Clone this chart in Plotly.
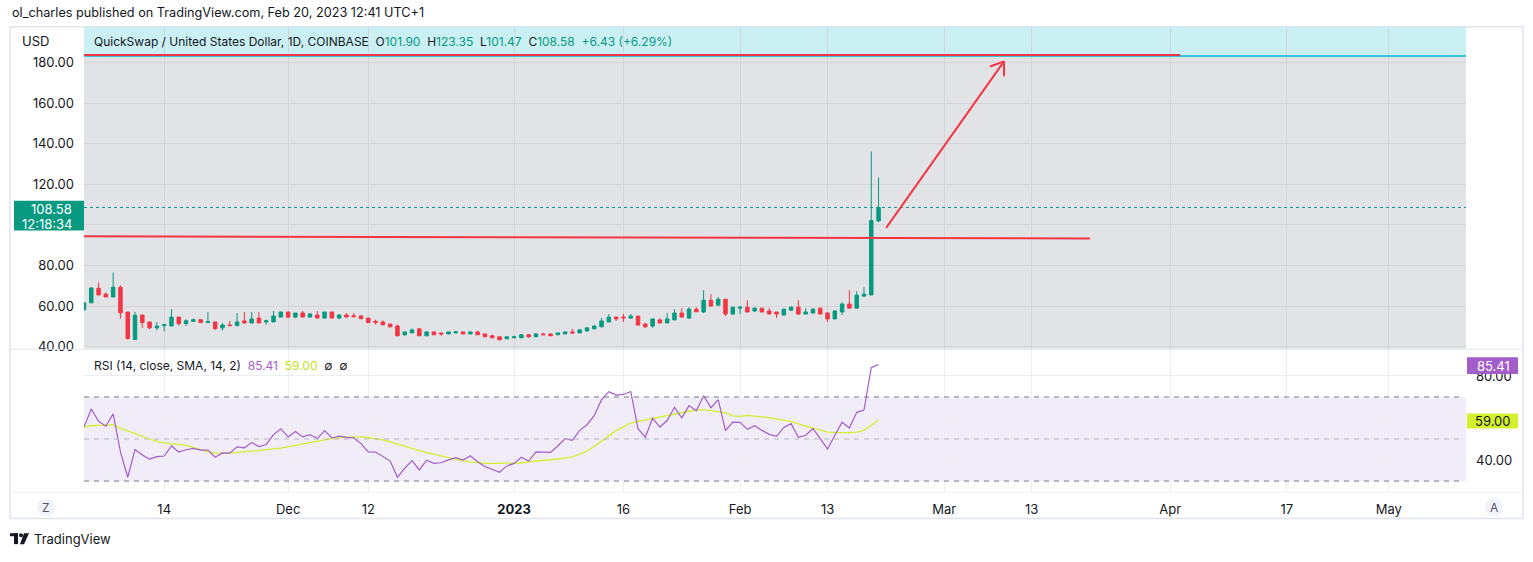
import pandas as pd
import plotly.graph_objects as go

# design grid (pixels of the 1533x562 reference); the figure fills the window
W, H = 1533, 562

# ---------------- data ----------------
dates = pd.date_range("2022-11-03", "2023-02-20", freq="D")
opens = [58.2, 61.6, 68.8, 65.9, 64.5, 69.3, 57.1, 43.6, 55.6, 52.2,
         49.3, 50.4, 50.2, 54.6, 51.4, 52.5, 53.3, 51.9, 52.2, 49.3,
         50.7, 50.4, 52.7, 51.7, 54.1, 52.2, 52.2, 54.6, 57.1, 54.6,
         56.6, 54.6, 55.6, 54.1, 57.1, 54.1, 55.6, 55.3, 55.1, 54.1,
         52.5, 52.2, 51.2, 50.2, 45.9, 46.8, 48.8, 45.4, 47.3, 46.8,
         46.3, 46.8, 47.3, 46.3, 47.3, 46.3, 45.4, 44.9, 43.9, 44.4,
         44.4, 45.9, 44.9, 46.3, 46.3, 45.9, 46.3, 47.3, 46.8, 47.8,
         48.8, 49.8, 52.2, 54.6, 54.6, 54.1, 55.1, 51.2, 50.2, 53.2,
         51.7, 53.2, 56.6, 54.1, 58.5, 57.1, 62.9, 60.5, 63.4, 56.1,
         59.0, 59.5, 57.6, 59.0, 57.6, 57.1, 55.6, 58.0, 59.5, 56.1,
         56.6, 59.0, 56.6, 53.7, 57.1, 61.0, 59.0, 64.9, 65.5, 101.90]
highs = [61.8, 69.3, 71.7, 66.8, 76.6, 70.2, 57.1, 57.1, 55.6, 52.2,
         52.2, 51.0, 58.5, 54.6, 53.5, 53.8, 53.3, 57.1, 52.2, 51.7,
         52.7, 56.6, 57.1, 57.1, 57.1, 53.3, 57.6, 57.3, 57.1, 56.6,
         57.6, 56.6, 57.6, 57.1, 57.1, 56.1, 56.6, 56.6, 55.6, 54.1,
         53.3, 53.0, 51.2, 51.0, 47.3, 49.0, 49.0, 47.8, 47.3, 46.8,
         47.3, 47.8, 47.3, 47.3, 47.8, 46.3, 45.9, 44.9, 44.9, 45.4,
         45.9, 45.9, 46.8, 46.8, 46.3, 46.8, 47.3, 48.8, 48.8, 49.3,
         50.7, 54.1, 56.1, 54.6, 56.1, 56.1, 55.1, 51.7, 53.7, 54.1,
         56.6, 58.5, 59.0, 59.5, 59.5, 67.8, 65.9, 64.4, 63.4, 59.5,
         59.7, 62.9, 59.5, 59.0, 59.0, 57.1, 58.5, 60.0, 62.9, 59.0,
         59.0, 59.0, 57.1, 58.0, 62.0, 67.8, 67.3, 69.3, 136.1, 123.35]
lows = [57.8, 61.6, 65.5, 64.5, 64.5, 53.8, 43.6, 43.6, 49.3, 48.6,
        48.0, 47.6, 50.2, 50.4, 50.2, 52.5, 51.9, 51.9, 48.3, 48.0,
        50.4, 50.4, 51.4, 51.7, 51.7, 50.9, 52.2, 54.6, 54.1, 54.1,
        54.6, 54.6, 54.1, 54.1, 54.1, 53.5, 54.6, 54.8, 53.8, 51.9,
        50.9, 50.4, 49.8, 45.4, 45.4, 46.8, 45.4, 45.4, 45.9, 45.4,
        46.3, 46.8, 46.3, 46.3, 45.9, 44.9, 44.4, 43.4, 43.9, 44.4,
        44.4, 44.4, 44.9, 45.9, 45.4, 45.9, 46.3, 46.8, 46.8, 47.3,
        48.8, 49.8, 52.2, 52.7, 52.2, 53.7, 50.2, 49.3, 49.3, 51.7,
        51.7, 53.2, 54.6, 53.7, 57.2, 56.6, 60.0, 60.0, 55.1, 55.6,
        56.1, 57.1, 57.1, 57.1, 56.1, 54.1, 55.6, 57.6, 55.6, 56.1,
        56.6, 56.1, 52.2, 53.7, 55.6, 59.0, 59.0, 64.9, 65.5, 101.47]
closes = [61.6, 68.9, 65.5, 64.5, 69.3, 56.7, 44.0, 55.5, 51.9, 49.3,
          50.2, 50.9, 54.6, 51.4, 52.8, 53.3, 51.9, 52.3, 48.9, 50.7,
          50.4, 52.2, 51.7, 53.7, 51.7, 52.8, 55.1, 57.1, 54.6, 56.6,
          54.6, 56.1, 54.1, 57.1, 54.1, 55.6, 54.6, 54.8, 53.8, 51.9,
          52.0, 50.9, 49.8, 45.4, 47.3, 48.3, 45.4, 47.3, 45.9, 46.3,
          47.3, 47.3, 46.3, 47.3, 45.9, 44.9, 44.4, 43.4, 44.9, 44.9,
          45.9, 44.9, 46.3, 45.9, 45.4, 46.8, 47.3, 46.8, 48.3, 49.3,
          50.2, 52.7, 54.6, 53.7, 54.2, 55.1, 50.7, 49.8, 53.7, 51.7,
          53.7, 56.6, 54.6, 58.5, 57.2, 62.9, 60.0, 63.4, 56.1, 59.5,
          59.5, 57.1, 59.0, 57.1, 56.1, 56.1, 58.5, 59.5, 56.1, 57.1,
          58.5, 56.1, 53.7, 57.6, 61.0, 59.0, 65.4, 65.9, 102.15, 108.58]
rsi = [55.7, 64.3, 58.4, 56.1, 62.0, 43.9, 31.8, 45.0, 42.4, 40.5,
       41.6, 41.9, 46.7, 43.8, 44.9, 45.5, 44.7, 44.7, 41.3, 43.4,
       43.3, 46.3, 45.8, 48.3, 46.4, 47.4, 52.1, 54.9, 51.0, 53.6,
       51.0, 52.1, 50.2, 54.0, 50.5, 51.4, 50.8, 50.5, 47.8, 43.9,
       43.8, 41.6, 39.5, 31.8, 36.1, 39.7, 35.3, 39.9, 38.4, 38.7,
       40.1, 41.1, 40.0, 42.0, 39.2, 36.9, 35.6, 34.2, 37.2, 38.4,
       41.3, 39.5, 43.9, 43.6, 43.6, 46.7, 50.2, 49.4, 54.1, 56.8,
       61.2, 68.7, 72.5, 70.9, 71.2, 72.6, 54.9, 50.8, 59.9, 55.7,
       58.8, 65.1, 60.1, 65.9, 63.4, 70.6, 64.9, 68.7, 54.0, 58.0,
       57.9, 54.6, 56.3, 54.1, 52.2, 51.3, 55.5, 57.3, 50.8, 51.8,
       54.9, 50.2, 45.2, 51.8, 58.0, 55.2, 62.7, 63.8, 83.9, 85.41]
rsi_sma = [55.7, 56.3, 56.5, 56.5, 56.7, 55.2, 53.8, 52.4, 51.3, 50.0,
           48.9, 48.2, 47.9, 47.6, 47.0, 46.0, 44.9, 43.9, 43.3, 43.2,
           43.4, 43.6, 43.9, 44.1, 44.4, 44.8, 45.3, 45.7, 46.4, 46.9,
           47.6, 48.3, 49.0, 49.6, 50.2, 50.6, 50.9, 51.0, 51.0, 50.6,
           50.2, 49.6, 48.6, 47.5, 46.6, 45.6, 44.5, 43.5, 42.7, 41.9,
           41.0, 40.4, 39.6, 39.0, 38.6, 38.4, 38.4, 38.4, 38.4, 38.4,
           38.6, 39.1, 39.4, 39.7, 40.1, 40.5, 41.0, 41.5, 42.8, 44.3,
           46.5, 49.0, 51.5, 54.0, 55.8, 57.6, 58.4, 59.1, 59.9, 60.7,
           61.3, 61.9, 62.6, 63.2, 63.7, 64.0, 63.5, 63.0, 62.5, 61.0,
           60.8, 61.2, 60.9, 60.7, 60.2, 59.6, 59.0, 58.3, 57.2, 56.1,
           55.2, 54.2, 53.3, 53.1, 53.0, 53.1, 53.3, 54.1, 56.5, 59.00]

time_tick_dates = ["2022-11-14", "2022-12-01", "2022-12-12", "2023-01-01",
                   "2023-01-16", "2023-02-01", "2023-02-13", "2023-03-01",
                   "2023-03-13", "2023-04-01", "2023-04-17", "2023-05-01"]
time_tick_labels = ["14", "Dec", "12", "<b>2023</b>", "16", "Feb", "13",
                    "Mar", "13", "Apr", "17", "May"]
price_ticks = [40, 60, 80, 100, 120, 140, 160, 180]
# 100.00 is hidden behind the last-price label in the reference
price_tick_labels = ["40.00", "60.00", "80.00", "", "120.00",
                     "140.00", "160.00", "180.00"]
rsi_ticks = [40, 60, 80]
rsi_tick_labels = ["40.00", "", "80.00"]
rsi_levels = [70, 50, 30]

# user drawings (anchor points, date/price)
resist_line_x = ["2022-11-03", "2023-04-02 09:00"]
resist_line_y = [183.6, 183.6]
support_line_x = ["2022-11-03", "2023-03-21 00:00"]
support_line_y = [94.4, 93.3]
arrow_x = ["2023-02-21 01:00", "2023-03-09 05:00"]
arrow_y = [98.5, 180.5]
arrow_wing_x = ["2023-03-07 07:00", "2023-03-09 05:00"]
arrow_wing_y = [178.0, 173.2]
band_bottom = 183.2

x_range = ["2022-11-03 00:00", "2023-05-11 14:00"]
price_range = [39.02, 197.56]
rsi_range = [24.94, 92.47]

# ---------------- styling ----------------
FONT = "Inter, Roboto, sans-serif"
TXT = "#131722"
UP = "#089981"
DOWN = "#f23645"
RED = "#f23645"
RSI_C = "#a35dc9"
SMA_C = "#d3ef2e"


def px(x):
    return x / W


def py(y):
    return 1 - y / H


fig = go.Figure()
fig.add_trace(go.Candlestick(
    x=dates, open=opens, high=highs, low=lows, close=closes,
    increasing=dict(line=dict(color=UP, width=1), fillcolor=UP),
    decreasing=dict(line=dict(color=DOWN, width=1), fillcolor=DOWN),
    whiskerwidth=0, showlegend=False, hoverinfo="skip",
    xaxis="x", yaxis="y"))
fig.add_trace(go.Scatter(x=dates, y=rsi_sma, mode="lines",
                         line=dict(color=SMA_C, width=1.3), showlegend=False,
                         hoverinfo="skip", xaxis="x2", yaxis="y2"))
fig.add_trace(go.Scatter(x=dates, y=rsi, mode="lines",
                         line=dict(color=RSI_C, width=1.2), showlegend=False,
                         hoverinfo="skip", xaxis="x2", yaxis="y2"))

grid_price = "#d3d5d9"
grid_rsi = "#eceef2"

fig.update_layout(
    autosize=True,
    margin=dict(l=0, r=0, t=0, b=0),
    paper_bgcolor="white", plot_bgcolor="white",
    font=dict(family=FONT, size=13, color=TXT),
    showlegend=False,
    boxgap=0.32,
    xaxis=dict(domain=[px(84), px(1466)], anchor="y", type="date",
               range=x_range, rangeslider=dict(visible=False),
               tickvals=time_tick_dates, showticklabels=False,
               showgrid=True, gridcolor=grid_price, gridwidth=1,
               zeroline=False, showline=False, ticks="", fixedrange=True),
    yaxis=dict(domain=[py(352.5), py(27)], anchor="x", side="left",
               range=price_range, tickvals=price_ticks,
               ticktext=price_tick_labels, ticks="",
               ticklabelstandoff=9, tickfont=dict(size=13, color=TXT),
               showgrid=True, gridcolor=grid_price, zeroline=False,
               showline=False, fixedrange=True),
    xaxis2=dict(domain=[px(84), px(1466)], anchor="y2", type="date",
                range=x_range, tickvals=time_tick_dates,
                ticktext=time_tick_labels, ticks="",
                ticklabelstandoff=8, tickfont=dict(size=13, color=TXT),
                showgrid=True, gridcolor=grid_rsi, zeroline=False,
                showline=False, fixedrange=True),
    yaxis2=dict(domain=[py(497), py(353.5)], anchor="x2", side="right",
                range=rsi_range, tickvals=rsi_ticks,
                ticktext=rsi_tick_labels, ticks="",
                ticklabelstandoff=9, tickfont=dict(size=13, color=TXT),
                showgrid=True, gridcolor=grid_rsi, zeroline=False,
                showline=False, fixedrange=True),
)

shapes = []
# outer frame
shapes.append(dict(type="rect", xref="paper", yref="paper",
                   x0=px(10), x1=px(1523), y0=py(524), y1=py(27),
                   line=dict(color="#e0e3eb", width=1.5), fillcolor="rgba(0,0,0,0)",
                   layer="below"))
# price pane background
shapes.append(dict(type="rect", xref="x domain", yref="y domain",
                   x0=0, x1=1, y0=0, y1=1, fillcolor="#e1e3e6",
                   line=dict(width=0), layer="below"))
# cyan band at top of price pane
shapes.append(dict(type="rect", xref="x domain", yref="y",
                   x0=0, x1=1, y0=band_bottom, y1=price_range[1],
                   fillcolor="#caf0f4", line=dict(width=0), layer="below"))
shapes.append(dict(type="line", xref="x domain", yref="y",
                   x0=0, x1=1, y0=band_bottom, y1=band_bottom,
                   line=dict(color="#00bcd4", width=1.5)))
# separators
shapes.append(dict(type="line", xref="paper", yref="paper",
                   x0=px(10), x1=px(1523), y0=py(353), y1=py(353),
                   line=dict(color="#e0e3eb", width=1)))
shapes.append(dict(type="line", xref="paper", yref="paper",
                   x0=px(10), x1=px(1523), y0=py(497.5), y1=py(497.5),
                   line=dict(color="#eef0f3", width=1)))
# RSI band + levels
shapes.append(dict(type="rect", xref="x2 domain", yref="y2",
                   x0=0, x1=1, y0=rsi_levels[2], y1=rsi_levels[0],
                   fillcolor="rgba(126,87,194,0.11)", line=dict(width=0),
                   layer="below"))
for lv, col in zip(rsi_levels, ["#787b86", "#b2b5be", "#787b86"]):
    shapes.append(dict(type="line", xref="x2 domain", yref="y2",
                       x0=0, x1=0.995, y0=lv, y1=lv,
                       line=dict(color=col, width=1, dash="5px,5px")))
# last price dotted line
shapes.append(dict(type="line", xref="x domain", yref="y",
                   x0=0, x1=1, y0=closes[-1], y1=closes[-1],
                   line=dict(color=UP, width=1, dash="dot")))
# user drawings
shapes.append(dict(type="line", xref="x", yref="y",
                   x0=resist_line_x[0], x1=resist_line_x[1],
                   y0=resist_line_y[0], y1=resist_line_y[1],
                   line=dict(color=RED, width=2)))
shapes.append(dict(type="line", xref="x", yref="y",
                   x0=support_line_x[0], x1=support_line_x[1],
                   y0=support_line_y[0], y1=support_line_y[1],
                   line=dict(color=RED, width=2)))
shapes.append(dict(type="line", xref="x", yref="y",
                   x0=arrow_x[0], x1=arrow_x[1], y0=arrow_y[0], y1=arrow_y[1],
                   line=dict(color=RED, width=2)))
for wx, wy in zip(arrow_wing_x, arrow_wing_y):
    shapes.append(dict(type="line", xref="x", yref="y",
                       x0=arrow_x[1], x1=wx, y0=arrow_y[1], y1=wy,
                       line=dict(color=RED, width=2)))
# price label box (left)
shapes.append(dict(type="rect", xref="paper", yref="paper",
                   x0=px(14), x1=px(84), y0=py(233), y1=py(203),
                   fillcolor=UP, line=dict(width=0)))
# RSI value boxes (right)
shapes.append(dict(type="rect", xref="paper", yref="paper",
                   x0=px(1467), x1=px(1518), y0=py(378), y1=py(361),
                   fillcolor=RSI_C, line=dict(width=0)))
shapes.append(dict(type="rect", xref="paper", yref="paper",
                   x0=px(1467), x1=px(1518), y0=py(433), y1=py(418),
                   fillcolor=SMA_C, line=dict(width=0)))
# Z / A buttons
for cx in (46, 1494):
    shapes.append(dict(type="circle", xref="paper", yref="paper",
                       x0=px(cx - 9), x1=px(cx + 9), y0=py(522), y1=py(504),
                       fillcolor="#f0f3fa", line=dict(width=0)))
# TradingView logo glyph
shapes.append(dict(type="rect", xref="paper", yref="paper",
                   x0=px(10), x1=px(18), y0=py(542), y1=py(539),
                   fillcolor="#131722", line=dict(width=0)))
shapes.append(dict(type="rect", xref="paper", yref="paper",
                   x0=px(14), x1=px(18), y0=py(550), y1=py(539),
                   fillcolor="#131722", line=dict(width=0)))
shapes.append(dict(type="circle", xref="paper", yref="paper",
                   x0=px(19), x1=px(23), y0=py(543), y1=py(539),
                   fillcolor="#131722", line=dict(width=0)))
shapes.append(dict(type="path", xref="paper", yref="paper",
                   path=f"M {px(24)} {py(539)} L {px(29)} {py(539)} L {px(24)} {py(550)} L {px(20)} {py(550)} Z",
                   fillcolor="#131722", line=dict(width=0)))
fig.update_layout(shapes=shapes)

ann = []


def add_text(x, y, text, size=13, color=TXT, xanchor="left"):
    ann.append(dict(xref="paper", yref="paper", x=px(x), y=py(y), text=text,
                    showarrow=False, xanchor=xanchor, yanchor="middle",
                    font=dict(family=FONT, size=size, color=color)))


add_text(10, 13, "ol_charles published on TradingView.com, Feb 20, 2023 12:41 UTC+1",
         size=12.7)
add_text(20, 41, "USD")
g = f"<span style='color:{UP}'>"
chg = closes[-1] - closes[-2]
chg_pct = chg / closes[-2] * 100
legend = ("QuickSwap / United States Dollar, 1D, COINBASE&nbsp;&nbsp;"
          f"O{g}{opens[-1]:.2f}</span>&nbsp;&nbsp;H{g}{highs[-1]:.2f}</span>&nbsp;&nbsp;"
          f"L{g}{lows[-1]:.2f}</span>&nbsp;&nbsp;C{g}{closes[-1]:.2f}</span>&nbsp;&nbsp;"
          f"{g}+{chg:.2f} (+{chg_pct:.2f}%)</span>")
add_text(92, 42, legend, size=12)
add_text(92, 369, "RSI (14, close, SMA, 14, 2)&nbsp;&nbsp;"
         f"<span style='color:{RSI_C}'>{rsi[-1]:.2f}</span>&nbsp;&nbsp;"
         f"<span style='color:#c2e021'>{rsi_sma[-1]:.2f}</span>&nbsp;&nbsp;∅&nbsp;&nbsp;∅",
         size=12)
add_text(74, 211, f"{closes[-1]:.2f}", color="white", xanchor="right")
add_text(74, 226, "12:18:34", color="white", xanchor="right")
add_text(1512, 369.5, f"{rsi[-1]:.2f}", color="white", xanchor="right")
add_text(1512, 425.5, f"{rsi_sma[-1]:.2f}", color=TXT, xanchor="right")
add_text(46, 513, "Z", size=12, color="#50535e", xanchor="center")
add_text(1494, 513, "A", size=12, color="#50535e", xanchor="center")
add_text(32, 545, "TradingView", size=13, color=TXT)
fig.update_layout(annotations=ann)

post = ("document.documentElement.style.margin='0';"
        "document.documentElement.style.overflow='hidden';"
        "document.body.style.margin='0';"
        "document.body.style.overflow='hidden';"
        "var gd=document.getElementById('{plot_id}');"
        "gd.style.width='100vw';gd.style.height='100vh';"
        "Plotly.Plots.resize(gd);")
fig.write_html("out.html", config={"displayModeBar": False, "responsive": True},
               default_width="100vw", default_height="100vh", post_script=post)
